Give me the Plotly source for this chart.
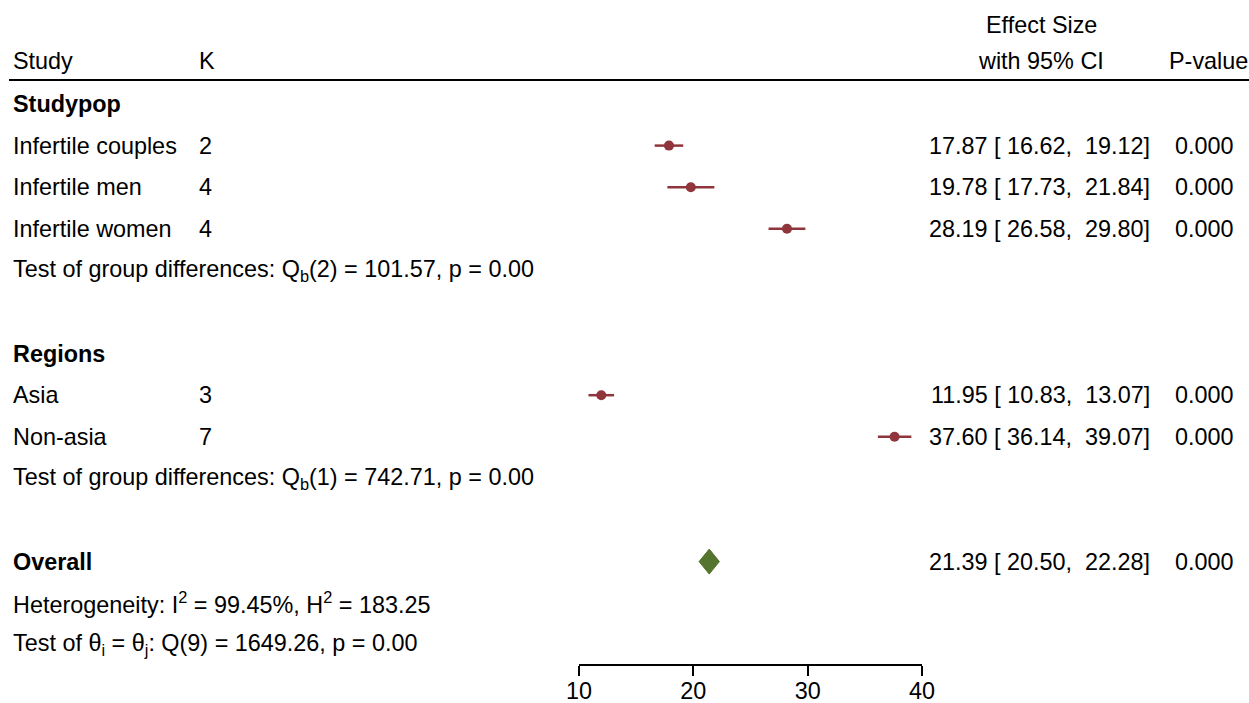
import plotly.graph_objects as go

# ---- data ----
study_labels = ["Infertile couples", "Infertile men", "Infertile women", "Asia", "Non-asia"]
study_k = [2, 4, 4, 3, 7]
study_es = [17.87, 19.78, 28.19, 11.95, 37.60]
study_lo = [16.62, 17.73, 26.58, 10.83, 36.14]
study_hi = [19.12, 21.84, 29.80, 13.07, 39.07]
study_p = [0.000, 0.000, 0.000, 0.000, 0.000]
study_rows = [1, 2, 3, 7, 8]

group_labels = ["Studypop", "Regions"]
group_rows = [0, 6]
group_tests = ["Test of group differences: Q<sub>b</sub>(2) = 101.57, p = 0.00",
               "Test of group differences: Q<sub>b</sub>(1) = 742.71, p = 0.00"]
group_test_rows = [4, 9]

overall_es = 21.39
overall_lo = 20.50
overall_hi = 22.28
overall_p = 0.000
overall_row = 11
overall_notes = ["Heterogeneity: I<sup>2</sup> = 99.45%, H<sup>2</sup> = 183.25",
                 "Test of θ<sub>i</sub> = θ<sub>j</sub>: Q(9) = 1649.26, p = 0.00"]
overall_note_rows = [12, 13]

x_ticks = [10, 20, 30, 40]

# ---- layout constants ----
W, H = 1249, 703
ROW0_PX = 104
ROW_PX = 41.6
FONT = "Liberation Sans, Arial, sans-serif"
FS = 23.4
RED = "#90353B"
GREEN = "#55752F"


def px(x):
    return x / W


fig = go.Figure()

# study markers with CI
fig.add_trace(go.Scatter(
    x=study_es, y=study_rows, mode="markers",
    marker=dict(color=RED, size=10, symbol="circle"),
    error_x=dict(type="data", symmetric=False,
                 array=[h - e for h, e in zip(study_hi, study_es)],
                 arrayminus=[e - l for e, l in zip(study_es, study_lo)],
                 color=RED, thickness=2.5, width=0),
    showlegend=False, hoverinfo="skip"))

# overall diamond
fig.add_trace(go.Scatter(
    x=[overall_lo, overall_es, overall_hi, overall_es, overall_lo],
    y=[overall_row, overall_row - 0.3, overall_row, overall_row + 0.3, overall_row],
    mode="lines", fill="toself", fillcolor=GREEN,
    line=dict(color=GREEN, width=1), showlegend=False, hoverinfo="skip"))

ann = []


def add_text(x_px, row, text, anchor="left"):
    ann.append(dict(x=px(x_px), xref="paper", y=row, yref="y", text=text,
                    showarrow=False, xanchor=anchor, yanchor="middle",
                    borderpad=0,
                    font=dict(family=FONT, size=FS, color="black")))


NB = "\u00a0"
# headers
add_text(12, -1.03, "Study")
add_text(198, -1.03, "K")
add_text(1041, -1.9, "Effect Size", "center")
add_text(1041, -1.03, "with 95% CI", "center")
add_text(1249, -1.03, "P-value", "right")

for lab, r in zip(group_labels, group_rows):
    add_text(12, r, f"<b>{lab}</b>")
for t, r in zip(group_tests, group_test_rows):
    add_text(12, r, t)
for lab, k, es, lo, hi, p, r in zip(study_labels, study_k, study_es, study_lo,
                                    study_hi, study_p, study_rows):
    add_text(12, r, lab)
    add_text(198, r, str(k))
    add_text(1151, r, f"{es:.2f}{NB}[{NB}{lo:.2f},{NB}{NB}{hi:.2f}]", "right")
    add_text(1235, r, f"{p:.3f}", "right")

add_text(12, overall_row, "<b>Overall</b>")
add_text(1151, overall_row,
         f"{overall_es:.2f}{NB}[{NB}{overall_lo:.2f},{NB}{NB}{overall_hi:.2f}]", "right")
add_text(1235, overall_row, f"{overall_p:.3f}", "right")
for t, r in zip(overall_notes, overall_note_rows):
    add_text(12, r, t)

fig.update_layout(
    width=W, height=H,
    margin=dict(l=0, r=0, t=0, b=0, autoexpand=False),
    paper_bgcolor="white", plot_bgcolor="white",
    annotations=ann,
    shapes=[dict(type="line", xref="paper", yref="y", x0=px(9), x1=1,
                 y0=(80 - ROW0_PX) / ROW_PX, y1=(80 - ROW0_PX) / ROW_PX,
                 line=dict(color="black", width=2))],
    xaxis=dict(domain=[px(579), px(922)], range=[10, 40],
               tickvals=x_ticks, ticks="outside", ticklen=10, tickwidth=1.5,
               tickcolor="black", showline=True, linecolor="black", linewidth=1.5,
               showgrid=False, zeroline=False, anchor="free", automargin=False,
               position=1 - 665 / H, ticklabelstandoff=-5,
               tickfont=dict(family=FONT, size=FS, color="black")),
    yaxis=dict(domain=[0, 1],
               range=[(H - ROW0_PX) / ROW_PX, -ROW0_PX / ROW_PX],
               visible=False, showgrid=False, zeroline=False, automargin=False),
)

fig.write_html(
    "out.html",
    config={"displayModeBar": False},
    post_script="document.body.style.margin='0';"
                "document.documentElement.style.overflow='hidden';",
)
